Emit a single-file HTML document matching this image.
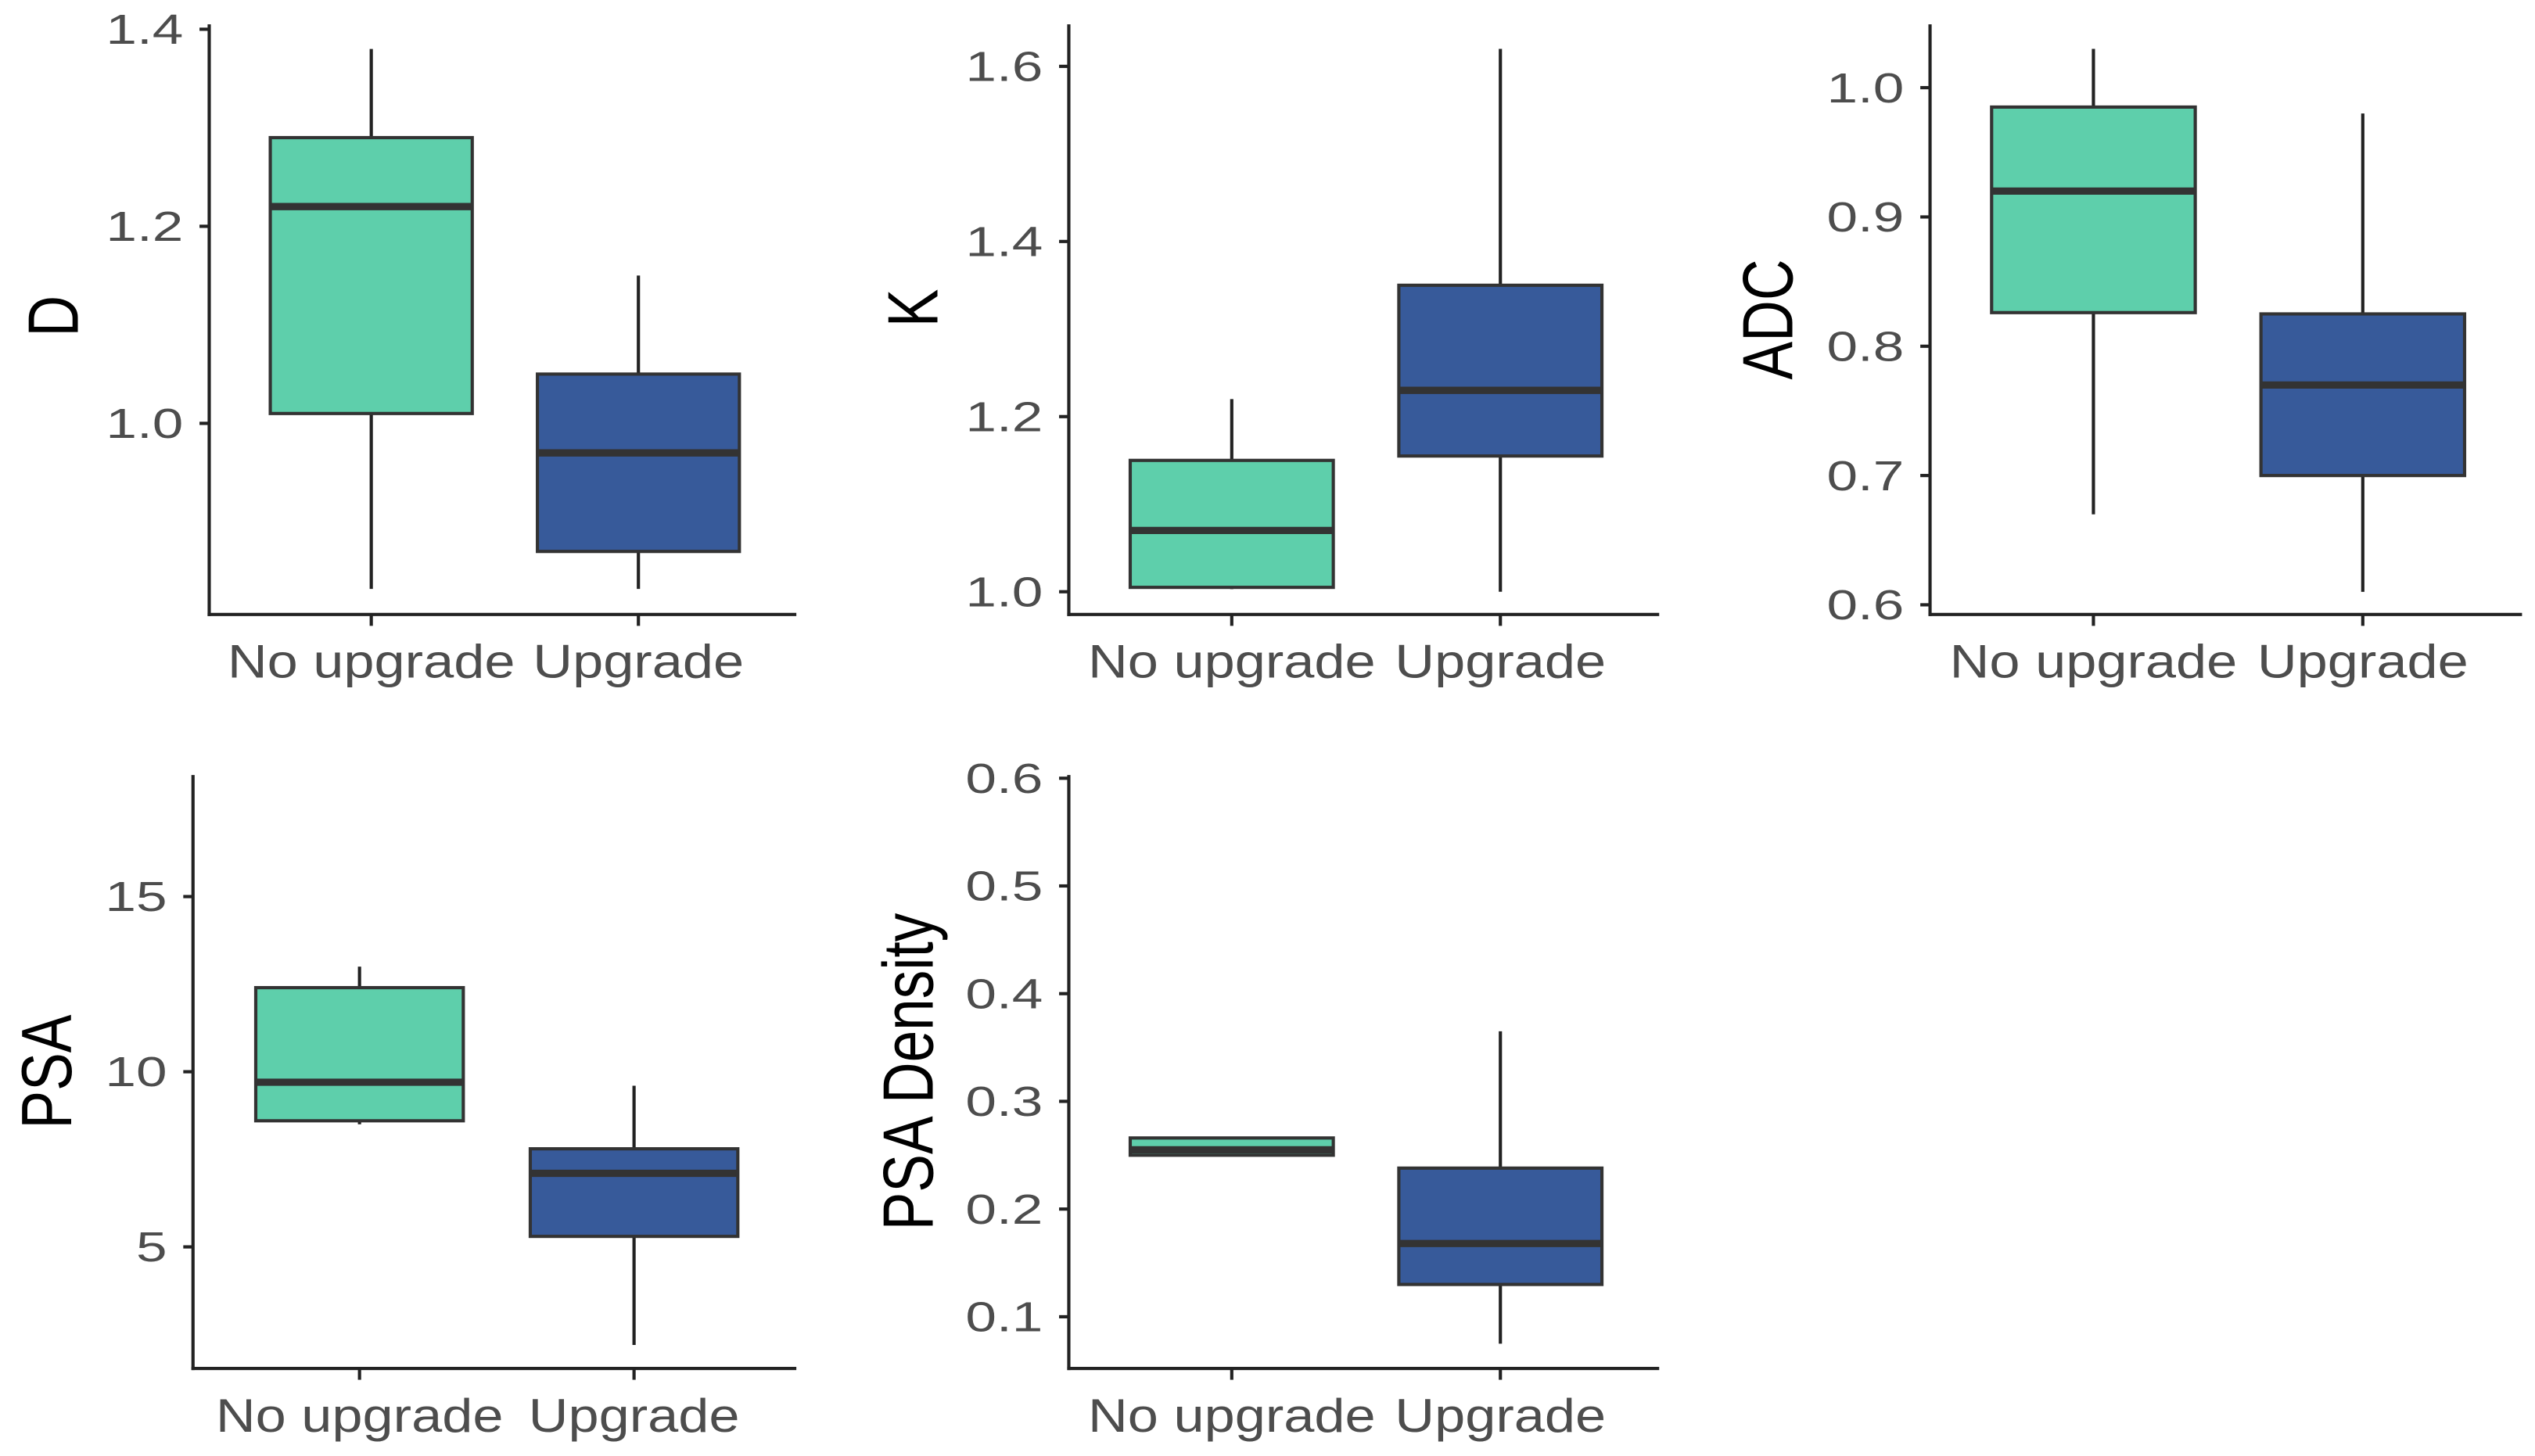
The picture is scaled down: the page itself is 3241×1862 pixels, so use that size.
<!DOCTYPE html>
<html><head><meta charset="utf-8">
<style>
html,body{margin:0;padding:0;background:#fff;}
svg{display:block;}
text{font-family:"Liberation Sans",Arial,sans-serif;}
</style></head>
<body>
<svg id="chart" width="3241" height="1862" viewBox="0 0 1563 898" preserveAspectRatio="none" xmlns="http://www.w3.org/2000/svg"></svg>
<script>
const categories = ["No upgrade", "Upgrade"];
const panelTitles = ["D", "K", "ADC", "PSA", "PSA Density"];
// per panel: [lowWhisker, q1, median, q3, highWhisker] for each category
const statsD = [[0.832, 1.01, 1.22, 1.29, 1.38], [0.832, 0.87, 0.97, 1.05, 1.15]];
const statsK = [[1.003, 1.005, 1.07, 1.15, 1.22], [1.0, 1.155, 1.23, 1.35, 1.62]];
const statsADC = [[0.67, 0.826, 0.92, 0.985, 1.03], [0.61, 0.70, 0.77, 0.825, 0.98]];
const statsPSA = [[8.5, 8.6, 9.7, 12.4, 13.0], [2.2, 5.3, 7.1, 7.8, 9.6]];
const statsPSAD = [[0.25, 0.25, 0.255, 0.266, 0.266], [0.075, 0.13, 0.168, 0.238, 0.365]];
const ticksD = [1.0, 1.2, 1.4];
const ticksK = [1.0, 1.2, 1.4, 1.6];
const ticksADC = [0.6, 0.7, 0.8, 0.9, 1.0];
const ticksPSA = [5, 10, 15];
const ticksPSAD = [0.1, 0.2, 0.3, 0.4, 0.5, 0.6];
const tickLabelsD = ["1.0", "1.2", "1.4"];
const tickLabelsK = ["1.0", "1.2", "1.4", "1.6"];
const tickLabelsADC = ["0.6", "0.7", "0.8", "0.9", "1.0"];
const tickLabelsPSA = ["5", "10", "15"];
const tickLabelsPSAD = ["0.1", "0.2", "0.3", "0.4", "0.5", "0.6"];
const domainD = [0.806, 1.405];
const domainK = [0.974, 1.648];
const domainADC = [0.5925, 1.049];
const domainPSA = [1.53, 18.47];
const domainPSAD = [0.052, 0.603];

const NS = "http://www.w3.org/2000/svg";
const svg = document.getElementById("chart");
function mk(tag, attrs, parent) {
  const e = document.createElementNS(NS, tag);
  for (const k in attrs) e.setAttribute(k, attrs[k]);
  (parent || svg).appendChild(e);
  return e;
}
function stretch(t, s) {
  const len = t.getComputedTextLength();
  if (len > 0) {
    t.setAttribute("textLength", (len * s).toFixed(2));
    t.setAttribute("lengthAdjust", "spacingAndGlyphs");
  }
}
const fills = ["#5ecfab", "#375a9a"];
const layouts = [
  {x0:129, x1:491, top:15, bottom:379, titleX:33, titleY:195},
  {x0:659, x1:1023, top:15, bottom:379, titleX:563, titleY:190},
  {x0:1190, x1:1555, top:15, bottom:379, titleX:1090, titleY:197},
  {x0:119, x1:491, top:478, bottom:844, titleX:29, titleY:661},
  {x0:659, x1:1023, top:478, bottom:844, titleX:560, titleY:661}
];
const panelStats = [statsD, statsK, statsADC, statsPSA, statsPSAD];
const panelTicks = [ticksD, ticksK, ticksADC, ticksPSA, ticksPSAD];
const panelTickLabels = [tickLabelsD, tickLabelsK, tickLabelsADC, tickLabelsPSA, tickLabelsPSAD];
const panelDomains = [domainD, domainK, domainADC, domainPSA, domainPSAD];

panelTitles.forEach((title, p) => {
  const L = layouts[p];
  const dom = panelDomains[p];
  const g = mk("g", {});
  
  
  const y = v => L.bottom - (v - dom[0]) / (dom[1] - dom[0]) * (L.bottom - L.top);
  const plotW = L.x1 - L.x0;
  const x = i => L.x0 + plotW * (0.276 + i * 0.455);
  const halfW = plotW * 0.172;
  panelStats[p].forEach((s, i) => {
    const cx = x(i);
    const w1 = mk("line", {x1:cx, x2:cx, y1:y(s[0]), y2:y(s[1]), stroke:"#222", "stroke-width":2}, g);
    
    
    const w2 = mk("line", {x1:cx, x2:cx, y1:y(s[3]), y2:y(s[4]), stroke:"#222", "stroke-width":2}, g);
    
    
    const r = mk("rect", {x:cx - halfW, y:y(s[3]), width:2 * halfW, height:Math.max(1, y(s[1]) - y(s[3])), fill:fills[i], stroke:"#333", "stroke-width":2}, g);
    
    
    const m = mk("line", {x1:cx - halfW, x2:cx + halfW, y1:y(s[2]), y2:y(s[2]), stroke:"#333", "stroke-width":4.5}, g);
    
    
  });
  const ya = mk("line", {x1:L.x0, x2:L.x0, y1:L.top, y2:L.bottom + 1, stroke:"#222", "stroke-width":2}, g);
  
  
  const xa = mk("line", {x1:L.x0 - 1, x2:L.x1, y1:L.bottom, y2:L.bottom, stroke:"#222", "stroke-width":2}, g);
  
  
  panelTicks[p].forEach((t, k) => {
    const ty = y(t);
    mk("line", {x1:L.x0 - 6, x2:L.x0, y1:ty, y2:ty, stroke:"#222", "stroke-width":2}, g);
    const tl = mk("text", {x:L.x0 - 16, y:ty + 9, "text-anchor":"end", "font-size":26, fill:"#4d4d4d"}, g);
    tl.textContent = panelTickLabels[p][k];
    
    
    stretch(tl, 1.32);
  });
  categories.forEach((c, i) => {
    mk("line", {x1:x(i), x2:x(i), y1:L.bottom, y2:L.bottom + 7, stroke:"#222", "stroke-width":2}, g);
    const xl = mk("text", {x:x(i), y:L.bottom + 39, "text-anchor":"middle", "font-size":29, fill:"#4d4d4d"}, g);
    xl.textContent = c;
    
    
    stretch(xl, 1.17);
  });
  const tt = mk("text", {x:0, y:0, "text-anchor":"middle", "font-size":44, fill:"#000", transform:`translate(${L.titleX + 15},${L.titleY}) rotate(-90)`}, g);
  tt.textContent = title;
  
  
  stretch(tt, 0.8);
});
</script>
</body></html>
